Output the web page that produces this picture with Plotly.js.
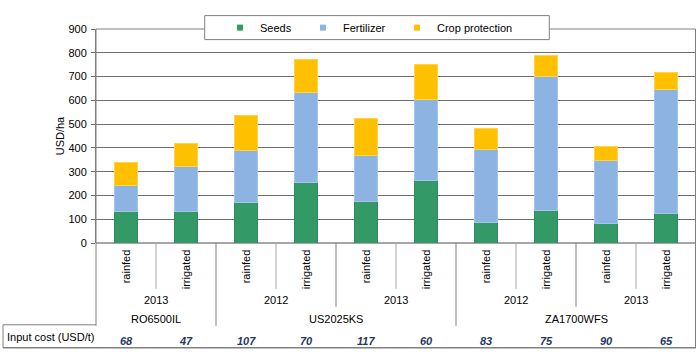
<!DOCTYPE html>
<html>
<head>
<meta charset="utf-8">
<script src="https://cdn.plot.ly/plotly-3.0.1.min.js"></script>
<style>html,body{margin:0;padding:0;background:#fff;}#chart{width:700px;height:352px;}</style>
</head>
<body>
<div id="chart"></div>
<script>
// ---- data ----
var conditions = ["rainfed","irrigated","rainfed","irrigated","rainfed","irrigated","rainfed","irrigated","rainfed","irrigated"];
var years = ["2013","2012","2013","2012","2013"];
var yearSpans = [[0,1],[2,3],[4,5],[6,7],[8,9]];
var farms = ["RO6500IL","US2025KS","ZA1700WFS"];
var farmSpans = [[0,1],[2,5],[6,9]];
var seeds = [133, 133, 170, 255, 174, 262, 88, 135, 80, 124];
var fertilizer = [107, 187, 217, 376, 193, 341, 305, 566, 265, 521];
var cropProtection = [100, 99, 149, 139, 156, 146, 88, 87, 62, 72];
var inputCost = [68, 47, 107, 70, 117, 60, 83, 75, 90, 65];
var yTicks = [0,100,200,300,400,500,600,700,800,900];
var seriesNames = ["Seeds", "Fertilizer", "Crop protection"];
var seriesColors = ["#339966", "#8db3e2", "#ffc000"];
var seriesLines = ["#2e8b5c", "#a6c4ea", "#ffd24d"];

var idx = conditions.map(function(_, i){ return i; });
var FONT = "Liberation Sans, Arial, sans-serif";

var seriesVals = [seeds, fertilizer, cropProtection];
var legendIds = ["legend", "legend2", "legend3"];
var traces = [];
seriesVals.forEach(function(vals, k){
  traces.push({type:"bar", name:seriesNames[k], x:idx, y:vals,
    marker:{color:seriesColors[k], line:{color:seriesLines[k], width:1}},
    showlegend:false, hoverinfo:"skip"});
});
// legend entries (small square keys, like the original)
seriesVals.forEach(function(vals, k){
  traces.push({type:"scatter", mode:"markers", name:seriesNames[k], x:[null], y:[null],
    marker:{symbol:"square", size:6, color:seriesColors[k]},
    legend:legendIds[k], showlegend:true, hoverinfo:"skip"});
});

// paper coordinates for the area below the plot
var H = 214; // plot height in px
function py(px){ return (242.7 - px) / H; }
function pxX(px){ return (px - 96) / 600; }

var annotations = [];
var shapes = [];

// condition labels
conditions.forEach(function(c, i){
  annotations.push({xref:"x", yref:"paper", x:i, y:py(247), text:c, showarrow:false,
    textangle:-90, xanchor:"center", yanchor:"top", font:{family:FONT, size:11, color:"#000"}});
});
// year labels
years.forEach(function(y, k){
  var s = yearSpans[k];
  annotations.push({xref:"x", yref:"paper", x:(s[0]+s[1])/2, y:py(300), text:y, showarrow:false,
    xanchor:"center", yanchor:"middle", font:{family:FONT, size:11, color:"#000"}});
});
// farm labels
farms.forEach(function(f, k){
  var s = farmSpans[k];
  annotations.push({xref:"x", yref:"paper", x:(s[0]+s[1])/2, y:py(319), text:f, showarrow:false,
    xanchor:"center", yanchor:"middle", font:{family:FONT, size:11, color:"#000"}});
});
// input cost row
annotations.push({xref:"paper", yref:"paper", x:pxX(5), y:py(336.5), text:"Input cost (USD/t)", showarrow:false,
  xanchor:"left", yanchor:"middle", font:{family:FONT, size:11, color:"#000"}});
inputCost.forEach(function(v, i){
  annotations.push({xref:"x", yref:"paper", x:i, y:py(341), text:"<b><i>"+v+"</i></b>", showarrow:false,
    xanchor:"center", yanchor:"middle", font:{family:FONT, size:11, color:"#1f3864"}});
});

// separators below axis
idx.slice(0, -1).forEach(function(i){
  var b = i + 0.5;
  var bottom;
  var isFarm = farmSpans.some(function(s){ return s[1] === i; });
  var isYear = yearSpans.some(function(s){ return s[1] === i; });
  if (isFarm) bottom = py(325.5); else if (isYear) bottom = py(306.5); else bottom = py(288.5);
  shapes.push({type:"line", xref:"x", yref:"paper", x0:b, x1:b, y0:0, y1:bottom,
    line:{color: isFarm || isYear ? "#808080" : "#a6a6a6", width:1}});
});
// frame lines
var frame = "#808080";
shapes.push({type:"line", xref:"paper", yref:"paper", x0:0, x1:0, y0:py(325.5), y1:1, line:{color:frame, width:1}});
shapes.push({type:"line", xref:"paper", yref:"paper", x0:pxX(3), x1:0, y0:py(324.5), y1:py(324.5), line:{color:frame, width:1}});
shapes.push({type:"line", xref:"paper", yref:"paper", x0:pxX(3), x1:pxX(3), y0:py(324.5), y1:py(347.5), line:{color:frame, width:1}});
shapes.push({type:"line", xref:"paper", yref:"paper", x0:pxX(3), x1:pxX(696), y0:py(347.5), y1:py(347.5), line:{color:frame, width:1.5}});
shapes.push({type:"line", xref:"paper", yref:"paper", x0:pxX(695.5), x1:pxX(695.5), y0:py(347.5), y1:1, line:{color:frame, width:1}});
shapes.push({type:"line", xref:"paper", yref:"paper", x0:0, x1:pxX(695.5), y0:1, y1:1, line:{color:frame, width:1}});
// legend box
shapes.push({type:"rect", xref:"paper", yref:"paper", x0:pxX(204.7), x1:pxX(549.3), y0:py(39.3), y1:py(15.3),
  fillcolor:"#ffffff", line:{color:frame, width:1}, layer:"above"});

function legendAt(startPx){
  return {orientation:"h", x:pxX(startPx), xanchor:"left", y:py(27.3), yanchor:"middle",
    bgcolor:"rgba(0,0,0,0)", borderwidth:0, font:{family:FONT, size:11, color:"#000"}, itemwidth:30};
}

var layout = {
  width:700, height:352,
  margin:{l:96, r:4.3, t:28.7, b:109.3},
  paper_bgcolor:"#fff", plot_bgcolor:"#fff",
  barmode:"stack", bargap:0.61,
  font:{family:FONT, size:11, color:"#000"},
  showlegend:true,
  legend:legendAt(220),
  legend2:legendAt(303),
  legend3:legendAt(397),
  xaxis:{range:[-0.5, 9.5], showticklabels:false, showgrid:false, zeroline:false, ticks:"",
    showline:false, fixedrange:true},
  yaxis:{range:[0, 900], tickvals:yTicks, ticktext:yTicks.map(String), showgrid:true, gridcolor:"#6e6e6e", gridwidth:1,
    zeroline:true, zerolinecolor:"#a6a6a6", zerolinewidth:2,
    ticks:"outside", ticklen:4, tickcolor:"#6e6e6e", showline:true, linecolor:"#808080", linewidth:1,
    ticklabelstandoff:2,
    tickfont:{family:FONT, size:11, color:"#000"},
    title:{text:"USD/ha", font:{family:FONT, size:11, color:"#000"}, standoff:1}},
  annotations:annotations,
  shapes:shapes
};
Plotly.newPlot("chart", traces, layout, {displayModeBar:false, staticPlot:true});
</script>
</body>
</html>
